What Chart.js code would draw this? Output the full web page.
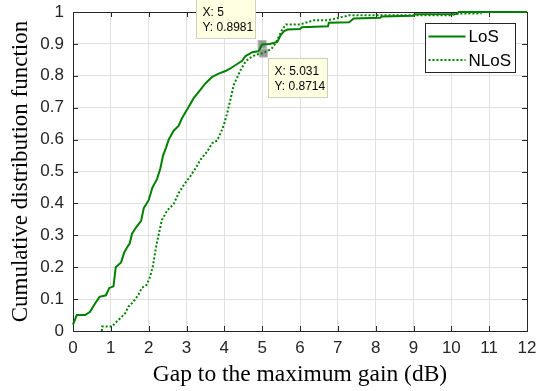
<!DOCTYPE html>
<html>
<head>
<meta charset="utf-8">
<title>CDF of gap to maximum gain</title>
<script src="https://cdn.jsdelivr.net/npm/chart.js@4/dist/chart.umd.min.js"></script>
<style>
  html, body { margin: 0; padding: 0; background: #fff; }
  canvas { display: block; }
</style>
</head>
<body>
<canvas id="cdfChart" width="536" height="391"></canvas>
<script>
// Empirical CDF samples: gap (dB) and cumulative probability
const losGap = [0, 0.1, 0.32, 0.45, 0.55, 0.70, 0.87, 0.96, 1.07, 1.13, 1.27, 1.35, 1.42, 1.50, 1.56, 1.67, 1.80, 1.87, 2.0, 2.1,
  2.22, 2.31, 2.38, 2.46, 2.53, 2.66, 2.79, 2.88, 3.02, 3.19, 3.37, 3.50, 3.68, 3.85, 4.03, 4.16, 4.34, 4.47, 4.56, 4.74,
  4.9, 5.0, 5.2, 5.40, 5.49, 5.58, 5.67, 6.0, 6.05, 6.74, 6.76, 7.3, 7.42, 8.12, 8.16, 9.0, 9.05, 10.14, 10.2, 12];
const losCdf = [0.02, 0.05, 0.05, 0.06, 0.08, 0.107, 0.112, 0.135, 0.14, 0.20, 0.215, 0.245, 0.26, 0.275, 0.305, 0.325, 0.345, 0.385, 0.41, 0.45,
  0.476, 0.51, 0.55, 0.575, 0.60, 0.628, 0.643, 0.667, 0.695, 0.73, 0.757, 0.776, 0.797, 0.807, 0.815, 0.823, 0.837, 0.847, 0.862, 0.874,
  0.877, 0.8981, 0.90, 0.906, 0.928, 0.94, 0.945, 0.947, 0.952, 0.955, 0.966, 0.968, 0.98, 0.982, 0.986, 0.988, 0.993, 0.994, 1.0, 1.0];

const nlosGap = [0.76, 0.77, 1.03, 1.11, 1.25, 1.38, 1.47, 1.60, 1.73, 1.82, 1.95, 2.04, 2.11, 2.20, 2.26, 2.35, 2.49, 2.66, 2.79, 2.93,
  3.10, 3.24, 3.37, 3.55, 3.68, 3.81, 3.90, 3.99, 4.08, 4.17, 4.25, 4.43, 4.56, 4.69, 4.83, 5.031, 5.25, 5.36, 5.45, 5.53,
  5.63, 6.0, 6.37, 6.74, 7.32, 9.97, 10.2, 10.8];
const nlosCdf = [0, 0.014, 0.014, 0.024, 0.04, 0.056, 0.077, 0.092, 0.114, 0.135, 0.145, 0.171, 0.203, 0.266, 0.30, 0.348, 0.378, 0.398, 0.432, 0.458,
  0.485, 0.51, 0.537, 0.563, 0.589, 0.597, 0.62, 0.647, 0.685, 0.73, 0.772, 0.818, 0.845, 0.857, 0.866, 0.8714, 0.885, 0.903, 0.925, 0.945,
  0.961, 0.961, 0.974, 0.974, 0.99, 0.99, 0.995, 0.995];

const seriesNames = ['LoS', 'NLoS'];

const xTicks = [0, 1, 2, 3, 4, 5, 6, 7, 8, 9, 10, 11, 12];
const yTicks = [0, 0.1, 0.2, 0.3, 0.4, 0.5, 0.6, 0.7, 0.8, 0.9, 1];
const yTickLabels = ['0', '0.1', '0.2', '0.3', '0.4', '0.5', '0.6', '0.7', '0.8', '0.9', '1'];

// data cursor readouts (first on LoS, second on NLoS)
const tipGap = [5, 5.031];
const tipCdf = [0.8981, 0.8714];

const GREEN = 'rgb(0,128,0)';
const AXIS = '#262626';
const GRID = '#e0e0e0';
const SANS = "'Liberation Sans', Arial, sans-serif";
const SERIF = "'Liberation Serif', 'Times New Roman', serif";

const toPoints = (xs, ys) => xs.map((x, i) => ({ x: x, y: ys[i] }));

// box around the plot area with inward tick marks on all four sides
const axesBox = {
  id: 'axesBox',
  beforeDatasetsDraw(chart) {
    const { ctx, chartArea: a, scales } = chart;
    const len = 5;
    ctx.save();
    ctx.strokeStyle = AXIS;
    ctx.lineWidth = 1;
    ctx.beginPath();
    xTicks.forEach(v => {
      const px = Math.round(scales.x.getPixelForValue(v)) + 0.5;
      ctx.moveTo(px, a.bottom); ctx.lineTo(px, a.bottom - len);
      ctx.moveTo(px, a.top); ctx.lineTo(px, a.top + len);
    });
    yTicks.forEach(v => {
      const py = Math.round(scales.y.getPixelForValue(v)) + 0.5;
      ctx.moveTo(a.left, py); ctx.lineTo(a.left + len, py);
      ctx.moveTo(a.right, py); ctx.lineTo(a.right - len, py);
    });
    ctx.stroke();
    ctx.strokeRect(Math.round(a.left) + 0.5, Math.round(a.top) + 0.5,
      Math.round(a.right - a.left), Math.round(a.bottom - a.top));
    ctx.restore();
  }
};

// boxed legend in the upper right corner
const legendBox = {
  id: 'legendBox',
  afterDraw(chart) {
    const { ctx, chartArea: a } = chart;
    const w = 90, h = 49;
    const x0 = Math.round(a.right - 12 - w) + 0.5;
    const y0 = Math.round(a.top + 11) + 0.5;
    ctx.save();
    ctx.fillStyle = '#fff';
    ctx.fillRect(x0, y0, w, h);
    ctx.strokeStyle = AXIS;
    ctx.lineWidth = 1;
    ctx.strokeRect(x0, y0, w, h);
    ctx.font = '17px ' + SANS;
    ctx.textBaseline = 'middle';
    ctx.fillStyle = '#000';
    seriesNames.forEach((name, i) => {
      const y = y0 + 13 + i * 23.5;
      ctx.strokeStyle = GREEN;
      ctx.lineWidth = 2;
      ctx.setLineDash(i === 0 ? [] : [2, 2]);
      ctx.beginPath();
      ctx.moveTo(x0 + 3, y);
      ctx.lineTo(x0 + 40, y);
      ctx.stroke();
      ctx.fillText(name, x0 + 43, y + 1);
    });
    ctx.restore();
  }
};

// yellow readout boxes next to the cursor markers
const dataTips = {
  id: 'dataTips',
  afterDraw(chart) {
    const { ctx, scales } = chart;
    const w = 59, h = 39;
    ctx.save();
    ctx.font = '12px ' + SANS;
    ctx.textBaseline = 'middle';
    tipGap.forEach((gx, i) => {
      const px = scales.x.getPixelForValue(gx);
      const py = scales.y.getPixelForValue(tipCdf[i]);
      let bx, by;
      if (i === 0) { bx = px - 7 - w; by = py - 7 - h; }
      else { bx = px + 5; by = py + 5; }
      bx = Math.round(bx) + 0.5; by = Math.round(by) + 0.5;
      ctx.fillStyle = '#ffffe1';
      ctx.fillRect(bx, by, w, h);
      ctx.strokeStyle = '#cfcfc0';
      ctx.lineWidth = 1;
      ctx.strokeRect(bx, by, w, h);
      ctx.fillStyle = '#000';
      ctx.fillText('X: ' + gx, bx + 6, by + 13);
      ctx.fillText('Y: ' + tipCdf[i], bx + 6, by + 28);
    });
    ctx.restore();
  }
};

new Chart(document.getElementById('cdfChart'), {
  type: 'line',
  data: {
    datasets: [
      {
        label: seriesNames[0],
        data: toPoints(losGap, losCdf),
        borderColor: GREEN,
        borderWidth: 2,
        pointRadius: 0,
        tension: 0,
        clip: 3
      },
      {
        label: seriesNames[1],
        data: toPoints(nlosGap, nlosCdf),
        borderColor: GREEN,
        borderWidth: 2,
        borderDash: [2, 2],
        pointRadius: 0,
        tension: 0,
        clip: 3
      },
      {
        label: 'cursor',
        data: toPoints(tipGap, tipCdf),
        showLine: false,
        pointStyle: 'rect',
        pointRadius: 5.7,
        backgroundColor: '#999999',
        borderColor: '#b5b5b5',
        borderWidth: 1,
        clip: 10
      }
    ]
  },
  options: {
    responsive: false,
    animation: false,
    events: [],
    layout: { padding: { top: 12, right: 9, left: 0, bottom: 0 } },
    plugins: {
      legend: { display: false },
      tooltip: { enabled: false }
    },
    scales: {
      x: {
        type: 'linear',
        min: 0,
        max: 12,
        afterBuildTicks: s => { s.ticks = xTicks.map(v => ({ value: v })); },
        afterFit: s => { s.height = 60; s.paddingLeft = 0; s.paddingRight = 0; },
        grid: { color: GRID, lineWidth: 1, drawTicks: false },
        border: { display: false },
        ticks: {
          color: AXIS,
          font: { family: SANS, size: 17 },
          padding: 7,
          maxRotation: 0,
          autoSkip: false
        },
        title: {
          display: true,
          text: 'Gap to the maximum gain (dB)',
          color: '#000',
          font: { family: SERIF, size: 23.5 },
          padding: { top: 0, bottom: 2 }
        }
      },
      y: {
        type: 'linear',
        min: 0,
        max: 1,
        afterBuildTicks: s => { s.ticks = yTicks.map(v => ({ value: v })); },
        afterFit: s => { s.width = 73; s.paddingTop = 0; s.paddingBottom = 0; },
        grid: { color: GRID, lineWidth: 1, drawTicks: false },
        border: { display: false },
        ticks: {
          color: AXIS,
          font: { family: SANS, size: 17 },
          padding: 9,
          callback: (v, i) => yTickLabels[i]
        },
        title: {
          display: true,
          text: 'Cumulative distribution function',
          color: '#000',
          font: { family: SERIF, size: 23 },
          padding: { top: 7, bottom: 0 }
        }
      }
    }
  },
  plugins: [axesBox, legendBox, dataTips]
});
</script>
</body>
</html>
